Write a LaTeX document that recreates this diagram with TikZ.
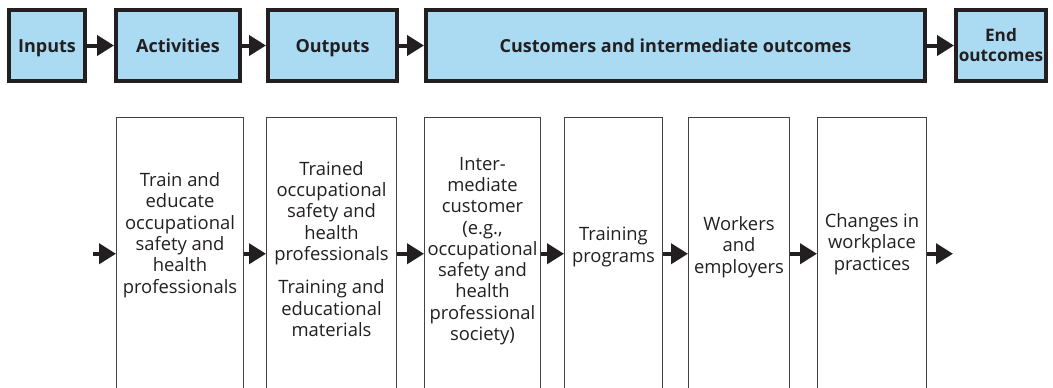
\documentclass[tikz,border=0pt]{standalone}
\usepackage{fontspec}
\setmainfont{Open Sans}
\usetikzlibrary{arrows.meta}
\definecolor{boxblue}{RGB}{171,218,243}
\definecolor{ink}{RGB}{35,31,32}
\tikzset{
  topbox/.style={draw=ink, line width=4pt, fill=boxblue, inner sep=0pt,
    minimum height=71pt, align=center, text=ink, font=\bfseries\fontsize{18}{20}\selectfont},
  oneline/.style={text height=13pt, text depth=0pt},
  lowbox/.style={draw=ink!85, line width=1pt, inner sep=0pt, minimum height=272.5pt},
  lowtext/.style={align=center, text=ink, inner sep=0pt, font=\fontsize{18.4}{21.3}\selectfont},
  flow/.style={draw=ink, line width=4pt, -{Triangle[length=17pt,width=20pt]}}
}
\begin{document}
\begin{tikzpicture}[x=1pt,y=-1pt]
\useasboundingbox (0,0) rectangle (1053,388);
\clip (0,0) rectangle (1053,388);
% top row
\node[topbox, oneline, minimum width=76pt]  (in)  at (47,45.5)    {Inputs};
\node[topbox, oneline, minimum width=124pt] (act) at (178,45.5)   {Activities};
\node[topbox, oneline, minimum width=129pt] (out) at (332.5,45.5) {Outputs};
\node[topbox, oneline, minimum width=499pt] (cus) at (675.5,45.5) {Customers and intermediate outcomes};
\node[topbox, minimum width=90pt, font=\bfseries\fontsize{17.2}{20}\selectfont] (end) at (1001,45.5) {End\\outcomes};
\draw[flow] (in) -- (act);
\draw[flow] (act) -- (out);
\draw[flow] (out) -- (cus);
\draw[flow] (cus) -- (end);
% lower row
\node[lowbox, minimum width=127pt] (b1) at (180,253.75) {};
\node[lowbox, minimum width=130pt] (b2) at (331.5,253.75) {};
\node[lowbox, minimum width=116pt] (b3) at (482.5,253.75) {};
\node[lowbox, minimum width=98pt]  (b4) at (613.5,253.75) {};
\node[lowbox, minimum width=101pt] (b5) at (739,253.75) {};
\node[lowbox, minimum width=109pt] (b6) at (872,253.75) {};
\node[lowtext] (t1) at (180,235) {Train and\\educate\\occupational\\safety and\\health\\professionals};
\node[lowtext] (t2) at (331.5,249) {Trained\\occupational\\safety and\\health\\professionals\\[12pt]Training and\\educational\\materials};
\node[lowtext] (t3) at (482.5,251) {Inter-\\mediate\\customer\\(e.g.,\\occupational\\safety and\\health\\professional\\society)};
\node[lowtext] (t4) at (613.5,247) {Training\\programs};
\node[lowtext] (t5) at (739,247) {Workers\\and\\employers};
\node[lowtext] (t6) at (872,244) {Changes in\\workplace\\practices};
\coordinate (s0) at (93,253.75);
\coordinate (s7) at (953,253.75);
\draw[flow] (s0) -- (b1.west);
\draw[flow] (b1) -- (b2);
\draw[flow] (b2) -- (b3);
\draw[flow] (b3) -- (b4);
\draw[flow] (b4) -- (b5);
\draw[flow] (b5) -- (b6);
\draw[flow] (b6.east) -- (s7);
\end{tikzpicture}
\end{document}
